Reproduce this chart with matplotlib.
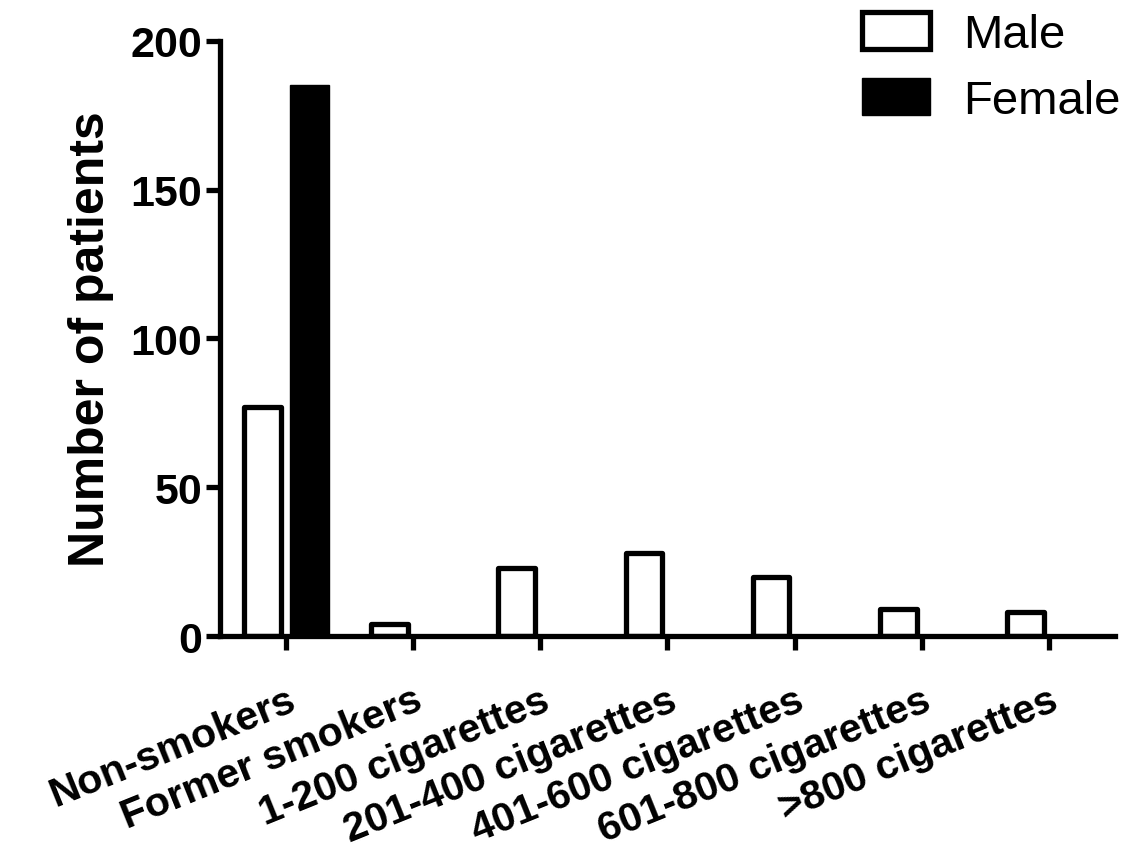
import numpy as np
import matplotlib.pyplot as plt
from matplotlib.patches import Patch

plt.rcParams['font.family'] = ['Liberation Sans', 'DejaVu Sans']

categories = ['Non-smokers', 'Former smokers', '1-200 cigarettes', '201-400 cigarettes',
              '401-600 cigarettes', '601-800 cigarettes', '>800 cigarettes']
male = [77, 4, 23, 28, 20, 9, 8]
female = [185, 0, 0, 0, 0, 0, 0]

x = np.arange(len(categories))
w = 0.29

fig = plt.figure(figsize=(11.41, 8.54), dpi=100)
ax = fig.add_axes([0.193, 0.254, 0.784, 0.697])

ax.bar(x - 0.185, male, w, color='white', edgecolor='black', linewidth=3.8, joinstyle='round')
fb = [(xi, v) for xi, v in zip(x, female) if v > 0]
ax.bar([a + 0.185 for a, _ in fb], [v for _, v in fb], w + 0.02, color='black',
       edgecolor='black', linewidth=1)

ax.set_xlim(-0.52, 6.52)
ax.set_ylim(0, 200)
ax.set_yticks([0, 50, 100, 150, 200])
ax.set_xticks(x)
ax.set_xticklabels(categories, rotation=22, ha='right', rotation_mode='anchor')

for s in ['top', 'right']:
    ax.spines[s].set_visible(False)
for s in ['left', 'bottom']:
    ax.spines[s].set_linewidth(3.8)
ax.tick_params(axis='both', width=3.8, length=10)
ax.tick_params(axis='y', pad=3, labelsize=31)
ax.tick_params(axis='x', pad=22, labelsize=29.5)
for t in ax.get_xticklabels() + ax.get_yticklabels():
    t.set_fontweight('bold')
ax.set_ylabel('Number of patients', fontsize=36, fontweight='bold', labelpad=12)

handles = [Patch(facecolor='white', edgecolor='black', linewidth=3.8, label='Male'),
           Patch(facecolor='black', edgecolor='black', label='Female')]
leg = ax.legend(handles=handles, loc='upper left', bbox_to_anchor=(862 / 1141, 1 - 13 / 854),
                bbox_transform=fig.transFigure, frameon=False, fontsize=34,
                handlelength=1.45, handleheight=0.82, handletextpad=0.7,
                labelspacing=0.45, borderpad=0, borderaxespad=0)

fig.savefig('out.png', dpi=100)
